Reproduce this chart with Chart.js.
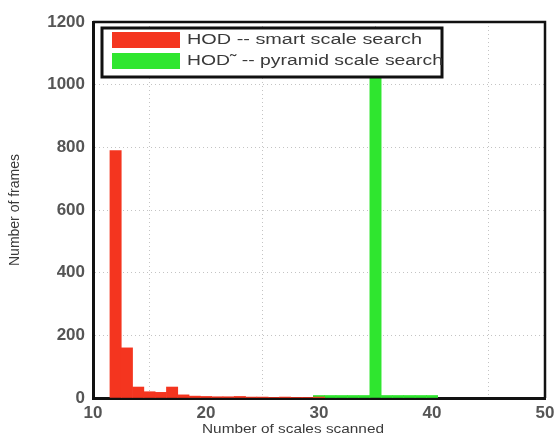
<!DOCTYPE html>
<html>
<head>
<meta charset="utf-8">
<script src="https://cdn.jsdelivr.net/npm/chart.js@4.4.1/dist/chart.umd.min.js"></script>
<style>
  html, body { margin: 0; padding: 0; background: #fff; }
  #wrap { width: 560px; height: 436px; }
</style>
</head>
<body>
<div id="wrap"><canvas id="hist" width="560" height="436"></canvas></div>
<script>
// scales scanned per frame (bin centres) and frame counts
const smartBins = [12, 13, 14, 15, 16, 17, 18, 19, 20, 21, 22, 23, 24, 25, 26, 27, 28, 29, 30];
const smartCounts = [790, 160, 35, 20, 18, 35, 10, 6, 5, 4, 4, 5, 3, 3, 2, 3, 2, 2, 3];
const pyramidBins = [30, 31, 32, 33, 34, 35, 36, 37, 38, 39, 40];
const pyramidCounts = [8, 8, 8, 8, 8, 1080, 8, 8, 8, 8, 8];
const seriesLabels = ["HOD -- smart scale search", "HOD\u02DC -- pyramid scale search"];
const yTicks = [0, 200, 400, 600, 800, 1000, 1200];
const xTicks = [10, 20, 30, 40, 50];

const RED = "#f4351f";
const GREEN = "#2fe62f";

// frame on top/right, legend box and x title
const framePlugin = {
  id: "frame",
  afterDraw(chart) {
    const { ctx, chartArea: a } = chart;
    ctx.save();
    ctx.strokeStyle = "#111";
    ctx.lineWidth = 2.5;
    ctx.beginPath();
    ctx.moveTo(a.left, a.top);
    ctx.lineTo(a.right, a.top);
    ctx.lineTo(a.right, a.bottom);
    ctx.stroke();

    // legend
    const bx = 102, by = 28, bw = 340, bh = 49;
    ctx.fillStyle = "#fff";
    ctx.fillRect(bx, by, bw, bh);
    ctx.lineWidth = 3;
    ctx.strokeStyle = "#111";
    ctx.strokeRect(bx, by, bw, bh);
    const rows = [
      { color: RED, y: 32, text: seriesLabels[0], w: 235 },
      { color: GREEN, y: 53, text: seriesLabels[1], w: 256 }
    ];
    ctx.font = "14px 'Liberation Sans', Arial, sans-serif";
    ctx.textBaseline = "middle";
    rows.forEach(r => {
      ctx.fillStyle = r.color;
      ctx.fillRect(112, r.y, 68, 16);
      ctx.fillStyle = "#3a3a3a";
      const tw = ctx.measureText(r.text).width;
      ctx.save();
      ctx.translate(187, r.y + 8);
      ctx.scale(r.w / tw, 1);
      ctx.fillText(r.text, 0, 0);
      ctx.restore();
    });

    // x title
    ctx.fillStyle = "#3a3a3a";
    ctx.font = "12px 'Liberation Sans', Arial, sans-serif";
    ctx.textBaseline = "middle";
    ctx.textAlign = "center";
    const t = "Number of scales scanned";
    const tw = ctx.measureText(t).width;
    ctx.save();
    ctx.translate(293, 430);
    ctx.scale(182 / tw, 1);
    ctx.fillText(t, 0, 0);
    ctx.restore();
    ctx.restore();
  }
};

const tickFont = { family: "'Liberation Sans', Arial, sans-serif", size: 17, weight: "bold" };

new Chart(document.getElementById("hist"), {
  type: "bar",
  data: {
    datasets: [
      {
        label: seriesLabels[0],
        data: smartBins.map((b, i) => ({ x: b, y: smartCounts[i] })),
        backgroundColor: RED,
        borderWidth: 0
      },
      {
        label: seriesLabels[1],
        data: pyramidBins.map((b, i) => ({ x: b, y: pyramidCounts[i] })),
        backgroundColor: GREEN,
        borderWidth: 0
      }
    ]
  },
  options: {
    responsive: false,
    animation: false,
    grouped: false,
    barPercentage: 1,
    categoryPercentage: 1,
    layout: { padding: { top: 22, right: 15, left: 0, bottom: 0 } },
    plugins: {
      legend: { display: false },
      tooltip: { enabled: false }
    },
    scales: {
      x: {
        type: "linear",
        offset: false,
        min: 10,
        max: 50,
        afterFit: s => { s.height = 38; },
        afterBuildTicks: s => { s.ticks = xTicks.map(v => ({ value: v })); },
        ticks: {
          color: "#555",
          font: tickFont,
          padding: 5,
          maxRotation: 0,
          callback: v => String(v)
        },
        grid: { color: "#c4c4c4", lineWidth: 1, drawTicks: false },
        border: { display: true, color: "#111", width: 3, dash: [1, 3] }
      },
      y: {
        min: 0,
        max: 1200,
        afterFit: s => { s.width = 93; },
        afterBuildTicks: s => { s.ticks = yTicks.map(v => ({ value: v })); },
        ticks: {
          color: "#555",
          font: tickFont,
          padding: 8,
          callback: v => String(v)
        },
        grid: { color: "#c4c4c4", lineWidth: 1, drawTicks: false },
        border: { display: true, color: "#111", width: 3, dash: [1, 3] },
        title: {
          display: true,
          text: "Number of frames",
          color: "#3a3a3a",
          font: { family: "'Liberation Sans', Arial, sans-serif", size: 14 },
          padding: { top: 7, bottom: 0 }
        }
      }
    }
  },
  plugins: [framePlugin]
});
</script>
</body>
</html>
